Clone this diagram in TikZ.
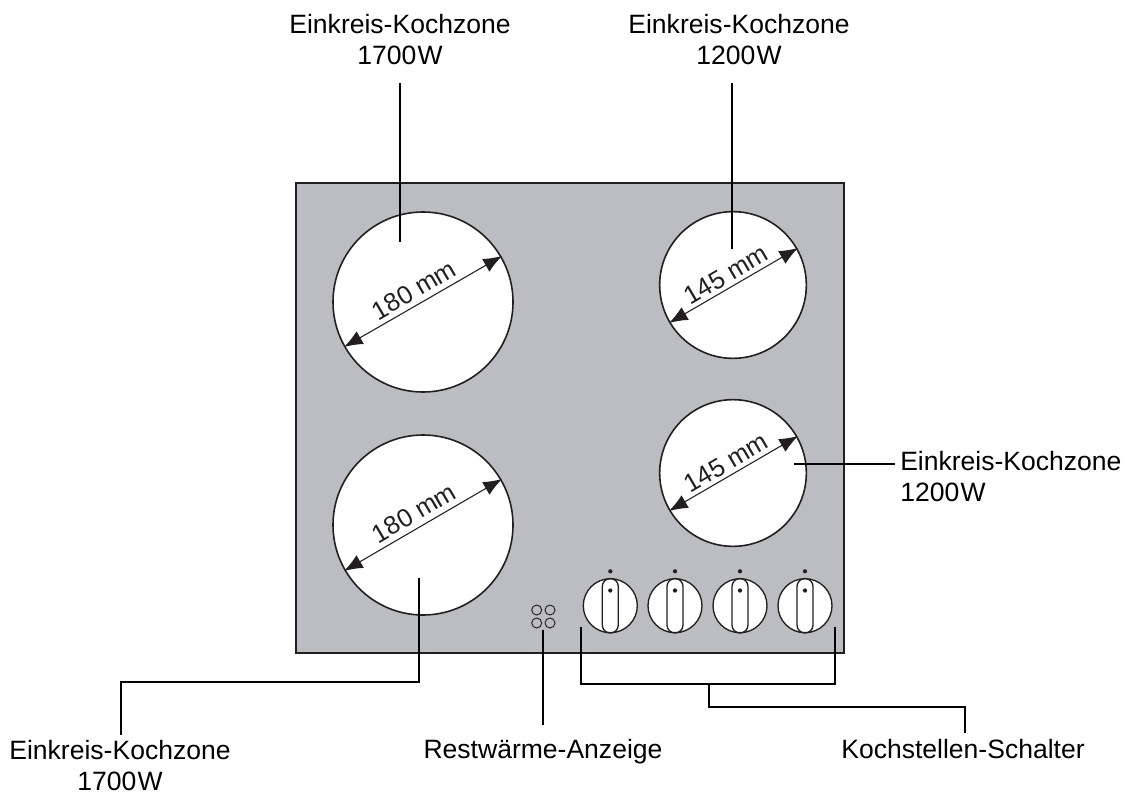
\documentclass[tikz,border=0pt]{standalone}
\usepackage{fontspec}
\setmainfont{Liberation Sans}
\usetikzlibrary{arrows.meta}
\definecolor{panelgray}{RGB}{187,189,192}
\definecolor{inkdark}{RGB}{35,31,32}
\tikzset{
  x=0.75pt,y=-0.75pt,
  callout/.style={font=\fontsize{19.9}{23.25}\selectfont,align=center,text=black,inner sep=0pt},
  dimtext/.style={font=\fontsize{19.2}{22}\selectfont,text=inkdark,inner sep=0pt,rotate=30.4},
  zone/.style={draw=inkdark,fill=white,line width=1.2pt,circle,inner sep=0pt},
  leader/.style={draw=black,line width=1.1pt},
  dim/.style={draw=inkdark,line width=0.8pt,{Latex[length=14pt,width=11pt]}-{Latex[length=14pt,width=11pt]}},
  knob/.style={draw=inkdark,fill=white,line width=1pt,circle,inner sep=0pt,minimum size=40.5pt},
  slot/.style={draw=inkdark,line width=1pt,rounded corners=6pt},
  lamp/.style={draw=inkdark,line width=0.7pt,circle,inner sep=0pt,minimum size=7.5pt},
  pip/.style={fill=inkdark,circle,inner sep=0pt,minimum size=3.2pt}
}
\newcommand{\wsp}{\kern1pt}
\begin{document}
\begin{tikzpicture}
\useasboundingbox (0,0) rectangle (1131,796);
\node[draw=inkdark,fill=panelgray,line width=0.8pt,minimum width=411pt,minimum height=352.5pt,inner sep=0pt] (panel) at (570,418) {};
% zones
\node[zone,minimum size=135pt] (z1) at (423,302) {};
\node[zone,minimum size=135pt] (z2) at (423,525) {};
\node[zone,minimum size=110pt] (z3) at (733,285) {};
\node[zone,minimum size=110pt] (z4) at (733,473) {};
% dimension arrows
\coordinate (z1a) at (344,347); \coordinate (z1b) at (502,256);
\coordinate (z2a) at (344,571); \coordinate (z2b) at (502,479);
\coordinate (z3a) at (669,323); \coordinate (z3b) at (798,248);
\coordinate (z4a) at (669,511); \coordinate (z4b) at (798,436);
\draw[dim] (z1a) -- (z1b);
\draw[dim] (z2a) -- (z2b);
\draw[dim] (z3a) -- (z3b);
\draw[dim] (z4a) -- (z4b);
\node[dimtext] (d1) at (414,290) {180 mm};
\node[dimtext] (d2) at (414,513) {180 mm};
\node[dimtext] (d3) at (726,275) {145 mm};
\node[dimtext] (d4) at (726,463) {145 mm};
% knobs
\foreach \n/\x in {1/610.3,2/675,3/740,4/805}{
  \node[knob] (k\n) at (\x,605.7) {};
  \draw[slot] (\x-8,578.5) rectangle (\x+8,633);
  \node[pip] (kp\n) at (\x,590.5) {};
  \node[pip] (kt\n) at (\x,571.3) {};
}
% lamps
\node[lamp] (l1) at (536.7,610) {};
\node[lamp] (l2) at (550,610) {};
\node[lamp] (l3) at (536.7,623) {};
\node[lamp] (l4) at (550,623) {};
% labels
\node[callout] (t1) at (400,40) {Einkreis-Kochzone\\1700\wsp W};
\node[callout] (t2) at (739,40) {Einkreis-Kochzone\\1200\wsp W};
\node[callout,anchor=west,align=left] (t3) at (900,477) {Einkreis-Kochzone\\1200\wsp W};
\node[callout] (t4) at (120,766) {Einkreis-Kochzone\\1700\wsp W};
\node[callout,anchor=base] (t5) at (543,758) {Restwärme-Anzeige};
\node[callout,anchor=base] (t6) at (963,758) {Kochstellen-Schalter};
% leaders
\coordinate (c1a) at (400,83); \coordinate (c1b) at (400,242);
\coordinate (c2a) at (732,83); \coordinate (c2b) at (732,249);
\draw[leader] (c1a) -- (c1b);
\draw[leader] (c2a) -- (c2b);
\coordinate (c3a) at (895,464); \coordinate (c3b) at (794,464);
\draw[leader] (c3a) -- (c3b);
\coordinate (c4a) at (121,735); \coordinate (c4b) at (419,578);
\draw[leader] (c4a) -- (121,682) -- (419,682) -- (c4b);
\coordinate (c5a) at (543,725); \coordinate (c5b) at (543,630);
\draw[leader] (c5a) -- (c5b);
\coordinate (c6a) at (581,627); \coordinate (c6b) at (835,627);
\draw[leader] (c6a) -- (581,684) -- (835,684) -- (c6b);
\coordinate (c7a) at (709,684); \coordinate (c7b) at (965,733);
\draw[leader] (c7a) -- (709,707) -- (965,707) -- (c7b);
\end{tikzpicture}
\end{document}
